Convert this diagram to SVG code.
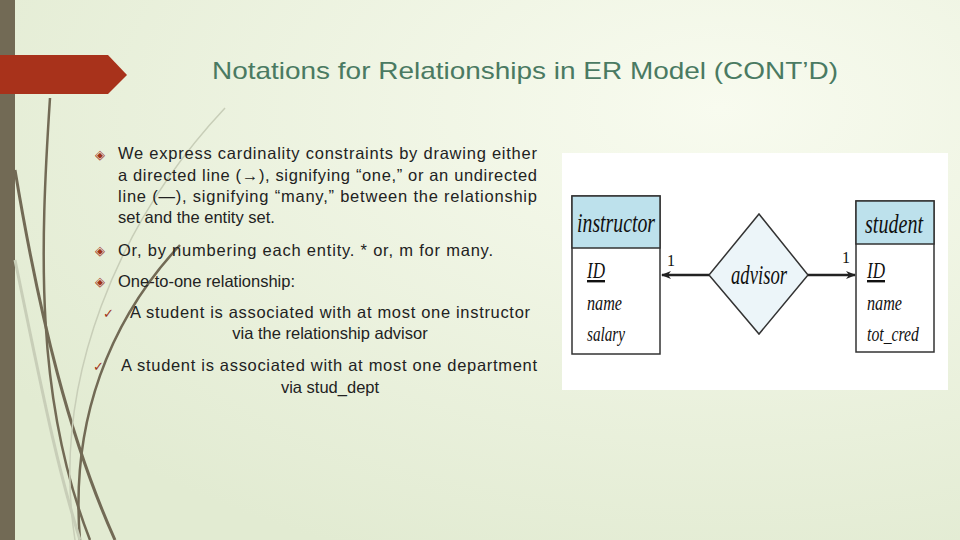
<svg xmlns="http://www.w3.org/2000/svg" width="960" height="540" viewBox="0 0 960 540">
<defs>
<radialGradient id="bg" cx="0.75" cy="0.2" r="0.9"><stop offset="0" stop-color="#f8fbef"/><stop offset="1" stop-color="#e2ebd2"/></radialGradient>
<marker id="ah" markerWidth="10" markerHeight="8" refX="9" refY="4" orient="auto" markerUnits="userSpaceOnUse"><path d="M0,0 L10,4 L0,8 L3,4 Z" fill="#222"/></marker>
<style>
.t{font-family:"Liberation Sans",Arial,sans-serif;font-size:16.5px;fill:#222}
.e{font-family:"Liberation Serif","Times New Roman",serif;font-style:italic;fill:#111}
.n{font-family:"Liberation Serif","Times New Roman",serif;fill:#111;font-size:16px}
.box{fill:#fff;stroke:#333;stroke-width:1.5}
.hd{fill:#bde1ec;stroke:#333;stroke-width:1.5}
.b{fill:#a0341a;font-family:"DejaVu Sans",sans-serif;font-size:13px}
</style>
</defs>
<rect width="960" height="540" fill="url(#bg)"/>
<rect x="0" y="0" width="15" height="540" fill="#726a55"/>
<g fill="none" stroke="#726a55">
<path d="M50,98 C40,250 35,400 90,540" stroke-width="2.5"/>
<path d="M15,170 C40,320 70,440 115,540" stroke-width="3"/>
<path d="M180,245 C110,320 70,420 80,540" stroke-width="2.5"/>
<path d="M225,108 C120,220 50,380 75,540" stroke="#c8ceb8" stroke-width="1.5"/>
<path d="M15,260 C40,380 55,460 80,540" stroke="#c8ceb8" stroke-width="3"/>
</g>
<path d="M0,55 L108,55 L127,75 L108,94 L0,94 Z" fill="#a8321b"/>
<text x="212" y="79" font-family="Liberation Sans,Arial,sans-serif" font-size="24" fill="#4a7a62" textLength="626" lengthAdjust="spacingAndGlyphs">Notations for Relationships in ER Model (CONT’D)</text>
<g id="bullets">
<text class="b" x="95" y="159">◈</text>
<text class="t" x="118" y="159" textLength="419">We express cardinality constraints by drawing either</text>
<text class="t" x="118" y="181" textLength="419">a directed line (→), signifying “one,” or an undirected</text>
<text class="t" x="118" y="202" textLength="419">line (—), signifying “many,” between the relationship</text>
<text class="t" x="118" y="223">set and the entity set.</text>
<text class="b" x="95" y="255">◈</text>
<text class="t" x="118" y="256" textLength="375">Or, by numbering each entity. * or, m for many.</text>
<text class="b" x="95" y="286">◈</text>
<text class="t" x="118" y="287">One-to-one relationship:</text>
<text class="b" x="103" y="318">✓</text>
<text class="t" x="130" y="318" textLength="400">A student is associated with at most one instructor</text>
<text class="t" x="330" y="339" text-anchor="middle">via the relationship advisor</text>
<text class="b" x="93" y="371">✓</text>
<text class="t" x="121" y="371" textLength="416">A student is associated with at most one department</text>
<text class="t" x="330" y="393" text-anchor="middle">via stud_dept</text>
</g>
<rect x="562" y="153" width="386" height="237" fill="#fff"/>
<g id="instructor">
<rect class="box" x="572" y="196" width="88" height="158"/>
<rect class="hd" x="572" y="196" width="88" height="52"/>
<text class="e" x="577" y="232" font-size="28" textLength="78" lengthAdjust="spacingAndGlyphs">instructor</text>
<text class="e" x="587" y="278" font-size="24" text-decoration="underline" textLength="18" lengthAdjust="spacingAndGlyphs">ID</text>
<text class="e" x="587" y="310" font-size="22" textLength="35" lengthAdjust="spacingAndGlyphs">name</text>
<text class="e" x="587" y="341" font-size="22" textLength="38" lengthAdjust="spacingAndGlyphs">salary</text>
</g>
<g id="student">
<rect class="box" x="856" y="201" width="78" height="151"/>
<rect class="hd" x="856" y="201" width="78" height="43"/>
<text class="e" x="865" y="233" font-size="28" textLength="58" lengthAdjust="spacingAndGlyphs">student</text>
<text class="e" x="867" y="278" font-size="24" text-decoration="underline" textLength="18" lengthAdjust="spacingAndGlyphs">ID</text>
<text class="e" x="867" y="310" font-size="22" textLength="35" lengthAdjust="spacingAndGlyphs">name</text>
<text class="e" x="867" y="341" font-size="22" textLength="52" lengthAdjust="spacingAndGlyphs">tot_cred</text>
</g>
<g id="advisor">
<path d="M759,214 L808,275 L759,334 L709,275 Z" fill="#ecf5f9" stroke="#333" stroke-width="1.5"/>
<text class="e" x="731" y="284" font-size="28" textLength="56" lengthAdjust="spacingAndGlyphs">advisor</text>
</g>
<g id="connectors" stroke="#222" stroke-width="2.5">
<line x1="709" y1="275" x2="662" y2="275" marker-end="url(#ah)"/>
<line x1="808" y1="275" x2="855" y2="275" marker-end="url(#ah)"/>
</g>
<text class="n" x="667" y="266">1</text>
<text class="n" x="842" y="263">1</text>
</svg>
